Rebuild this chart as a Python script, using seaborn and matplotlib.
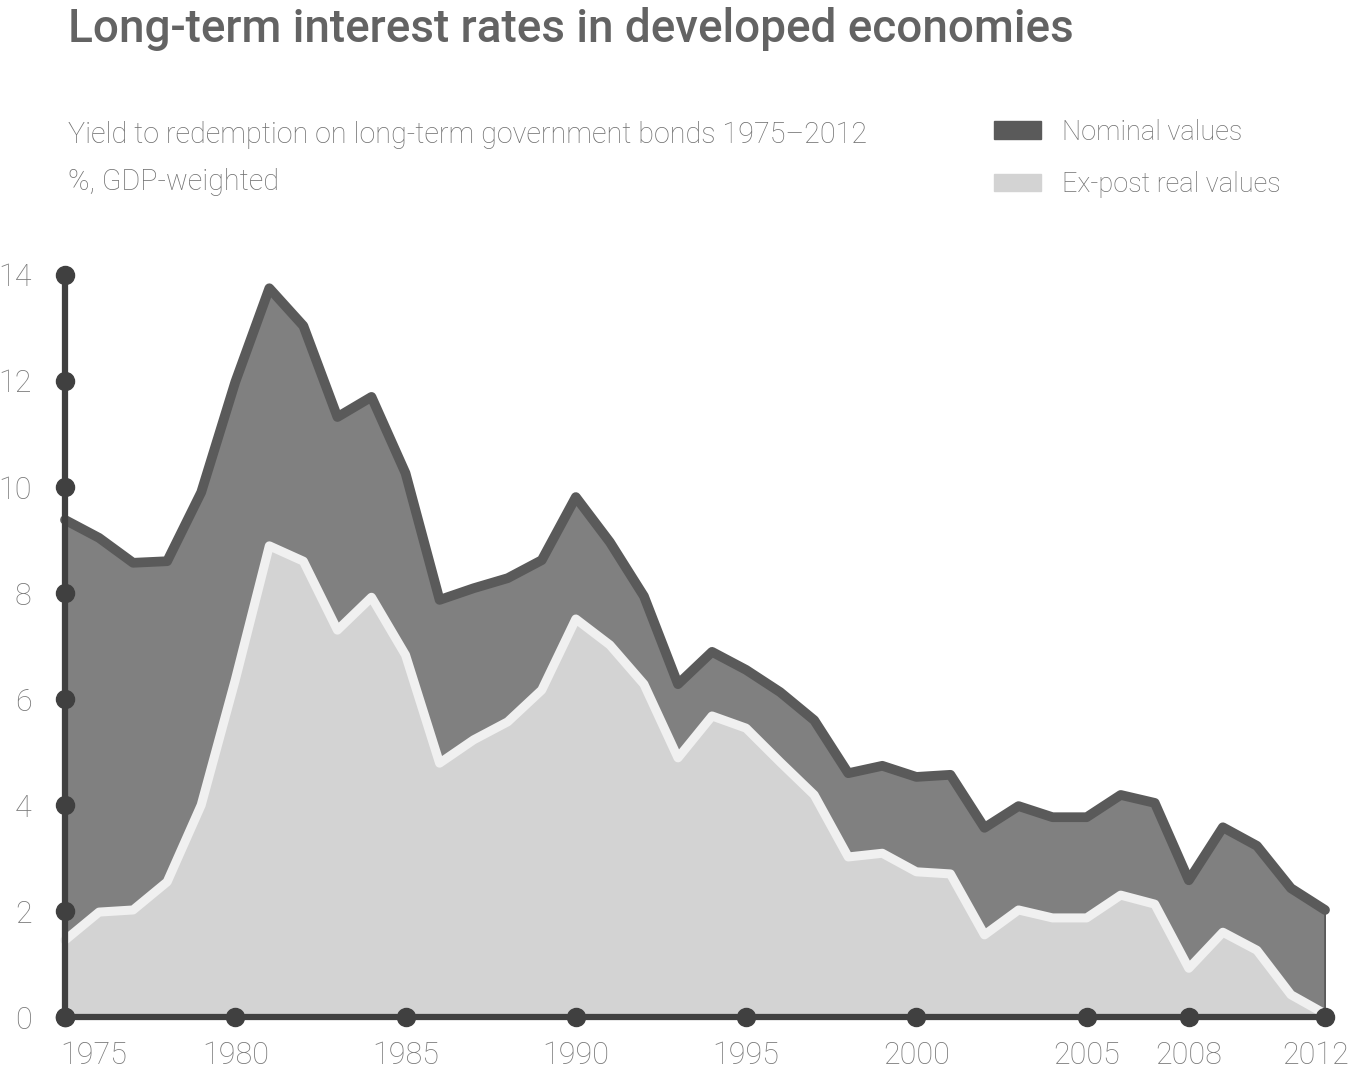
import pandas as pd
import numpy as np
import matplotlib.pyplot as plt
import matplotlib.transforms as mtrans
from matplotlib.patches import Patch
import seaborn as sns

years = list(range(1975, 2013))
nominal = [9.38, 9.04, 8.57, 8.60, 9.90, 11.98, 13.75, 13.04, 11.32, 11.70,
           10.26, 7.87, 8.09, 8.28, 8.62, 9.81, 8.96, 7.94, 6.28, 6.89,
           6.55, 6.13, 5.60, 4.60, 4.74, 4.53, 4.57, 3.57, 3.98, 3.77,
           3.77, 4.19, 4.04, 2.58, 3.58, 3.23, 2.43, 2.02]
real = [1.45, 1.98, 2.02, 2.55, 4.00, 6.36, 8.89, 8.60, 7.30, 7.92,
        6.83, 4.79, 5.23, 5.57, 6.17, 7.51, 7.02, 6.28, 4.89, 5.68,
        5.45, 4.81, 4.19, 3.02, 3.09, 2.74, 2.70, 1.55, 2.02, 1.87,
        1.87, 2.30, 2.13, 0.92, 1.60, 1.26, 0.42, 0.06]
x_ticks = [1975, 1980, 1985, 1990, 1995, 2000, 2005, 2008, 2012]
y_ticks = [0, 2, 4, 6, 8, 10, 12, 14]

df = pd.DataFrame({'year': years, 'nominal': nominal, 'real': real})

sns.set_theme(style='white')
plt.rcParams['font.family'] = ['Roboto', 'DejaVu Sans']

AXIS = '#404040'
TEXT = '#707070'

fig = plt.figure(figsize=(13.54, 10.70), dpi=100)
ax = fig.add_axes([0.048, 0.0495, 0.9306, 0.6935])

ax.fill_between(df['year'], 0, df['nominal'], color='#808080',
                edgecolor='#5a5a5a', linewidth=2, zorder=1)
sns.lineplot(data=df, x='year', y='nominal', color='#5a5a5a', linewidth=7,
             ax=ax, zorder=2, clip_on=False)
ax.fill_between(df['year'], 0, df['real'], color='#d3d3d3',
                edgecolor='#f0f0f0', linewidth=2, zorder=3)
sns.lineplot(data=df, x='year', y='real', color='#f0f0f0', linewidth=6.5,
             ax=ax, zorder=4, clip_on=False)

ax.set_xlim(1975, 2012)
ax.set_ylim(0, 14)
ax.set_xticks(x_ticks)
ax.set_yticks(y_ticks)
ax.set_xlabel('')
ax.set_ylabel('')

for loc in ['top', 'right']:
    ax.spines[loc].set_visible(False)
for loc in ['left', 'bottom']:
    ax.spines[loc].set_color(AXIS)
    ax.spines[loc].set_linewidth(4.5)
    ax.spines[loc].set_zorder(6)

# round tick dots
ax.plot([1975] * len(y_ticks), y_ticks, 'o', color=AXIS, ms=13,
        clip_on=False, zorder=7)
ax.plot(x_ticks, [0] * len(x_ticks), 'o', color=AXIS, ms=13,
        clip_on=False, zorder=7)

ax.tick_params(axis='both', length=0, labelsize=22, labelcolor='#787878')
ax.tick_params(axis='y', pad=24)
ax.tick_params(axis='x', pad=17)
for lab in ax.get_xticklabels() + ax.get_yticklabels():
    lab.set_fontweight('light')
xlabs = ax.get_xticklabels()
xlabs[0].set_ha('left')
xlabs[0].set_transform(xlabs[0].get_transform() +
                       mtrans.ScaledTranslation(-5 / 100, 0, fig.dpi_scale_trans))
xlabs[-1].set_transform(xlabs[-1].get_transform() +
                        mtrans.ScaledTranslation(-9 / 100, 0, fig.dpi_scale_trans))
ax.grid(False)

fig.text(0.050, 0.993, 'Long-term interest rates in developed economies',
         fontsize=33, fontweight='medium', color='#636363', va='top')
fig.text(0.050, 0.866, 'Yield to redemption on long-term government bonds 1975\u20132012',
         fontsize=20.7, fontweight='light', color=TEXT, va='baseline')
fig.text(0.050, 0.822, '%, GDP-weighted',
         fontsize=20.7, fontweight='light', color=TEXT, va='baseline')

handles = [Patch(color='#5a5a5a'), Patch(color='#d3d3d3')]
leg = fig.legend(handles, ['Nominal values', 'Ex-post real values'],
                 loc='upper left', bbox_to_anchor=(0.716, 0.912),
                 frameon=False, fontsize=19.5, handlelength=1.75, handleheight=0.6,
                 handletextpad=0.75, labelspacing=0.95)
for t in leg.get_texts():
    t.set_color(TEXT)
    t.set_fontweight('light')

fig.savefig('out.png', dpi=100)
